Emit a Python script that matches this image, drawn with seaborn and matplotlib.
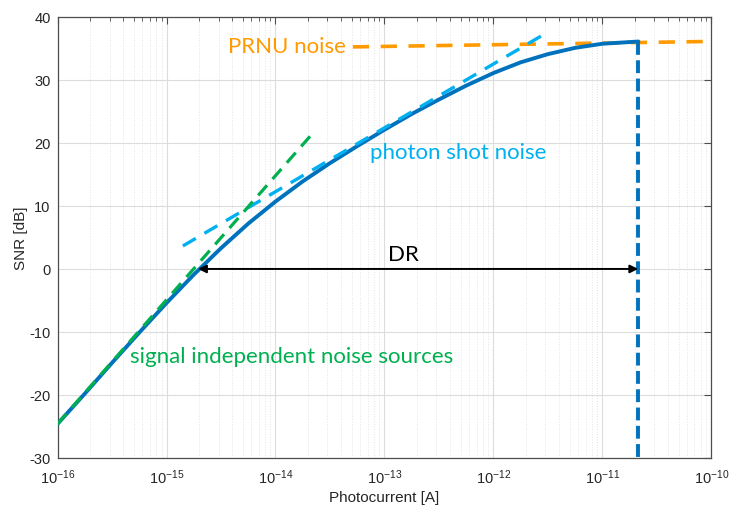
import numpy as np
import pandas as pd
import matplotlib
matplotlib.use("Agg")
import matplotlib.pyplot as plt
import seaborn as sns
from matplotlib.ticker import LogLocator, NullFormatter

# ---- data (log10 of photocurrent in A, SNR in dB) ----
total_log_current = [-16.0, -15.75, -15.5, -15.25, -15.0, -14.75, -14.5, -14.25,
                     -14.0, -13.75, -13.5, -13.25, -13.0, -12.75, -12.5, -12.25,
                     -12.0, -11.75, -11.5, -11.25, -11.0, -10.67]
total_snr = [-24.6, -19.8, -14.9, -10.1, -5.4, -0.9, 3.3, 7.2,
             10.7, 13.9, 16.8, 19.5, 22.1, 24.6, 26.9, 29.1,
             31.1, 32.8, 34.1, 35.1, 35.75, 36.1]

signal_indep_log_current = [-16.0, -13.64]
signal_indep_snr = [-24.6, 21.9]

shot_log_current = [-14.85, -11.53]
shot_snr = [3.65, 37.3]

prnu_log_current = [-13.29, -10.07]
prnu_snr = [35.25, 36.1]

dr_log_current = [-14.71, -10.672]
dr_snr = 0.0
max_log_current = -10.672
max_snr = 36.1
min_snr = -30.0

x_ticks_exp = [-16, -15, -14, -13, -12, -11, -10]
y_ticks = [-30, -20, -10, 0, 10, 20, 30, 40]

# ---- colours ----
c_total = "#0072BD"
c_green = "#00B050"
c_cyan = "#00B0F0"
c_orange = "#FF9A00"

sns.set_style("white")
plt.rcParams["font.family"] = ["Liberation Sans", "DejaVu Sans"]
plt.rcParams["axes.unicode_minus"] = False

fig = plt.figure(figsize=(7.33, 5.06), dpi=100)
ax = fig.add_axes([0.0785, 0.093, 0.892, 0.8715])

def frame(logs, ys):
    return pd.DataFrame({"I": np.power(10.0, logs), "snr": ys})

# helper lines
sns.lineplot(data=frame(prnu_log_current, prnu_snr), x="I", y="snr", ax=ax,
             color=c_orange, lw=2.6, zorder=3)
ax.lines[-1].set_dashes((4.5, 3.2))
sns.lineplot(data=frame(shot_log_current, shot_snr), x="I", y="snr", ax=ax,
             color=c_cyan, lw=2.4, zorder=4)
ax.lines[-1].set_dashes((4.5, 3.0))

# total SNR curve
sns.lineplot(data=frame(total_log_current, total_snr), x="I", y="snr", ax=ax,
             color=c_total, lw=2.8, zorder=3, sort=False)

sns.lineplot(data=frame(signal_indep_log_current, signal_indep_snr), x="I", y="snr",
             ax=ax, color=c_green, lw=2.3, zorder=5)
ax.lines[-1].set_dashes((4.2, 2.6))

# vertical max line
sns.lineplot(data=frame([max_log_current, max_log_current], [max_snr, min_snr]),
             x="I", y="snr", ax=ax, color=c_total, lw=2.8, zorder=3, sort=False,
             estimator=None)
ax.lines[-1].set_dashes((3.3, 1.4))

# DR arrow
ax.annotate("", xy=(10 ** dr_log_current[0], dr_snr), xytext=(10 ** dr_log_current[1], dr_snr),
            arrowprops=dict(arrowstyle="<|-|>", color="black", lw=1.4,
                            mutation_scale=12, shrinkA=0, shrinkB=0), zorder=6)

tfont = ["Lato", "DejaVu Sans"]
ax.text(10 ** -12.97, 2.4, "DR", fontsize=16, family=tfont, color="black",
        ha="left", va="center")
ax.text(10 ** -14.436, 35.4, "PRNU noise", fontsize=16, family=tfont, color=c_orange,
        ha="left", va="center")
ax.text(10 ** -13.133, 18.6, "photon shot noise", fontsize=16, family=tfont, color=c_cyan,
        ha="left", va="center")
ax.text(10 ** -15.335, -13.8, "signal independent noise sources", fontsize=16, family=tfont,
        color=c_green, ha="left", va="center")

ax.set_xscale("log")
ax.set_xlim(1e-16, 1e-10)
ax.set_ylim(-30, 40)
ax.set_xticks([10.0 ** e for e in x_ticks_exp])
ax.xaxis.set_minor_locator(LogLocator(base=10, subs=np.arange(2, 10), numticks=20))
ax.xaxis.set_minor_formatter(NullFormatter())
ax.set_yticks(y_ticks)

ax.grid(True, which="major", color="#dcdcdc", lw=0.8, ls="-")
ax.grid(True, which="minor", axis="x", color="#e4e4e4", lw=0.7, ls=":")
ax.set_axisbelow(True)

ax.tick_params(which="both", direction="in", top=True, right=True,
               colors="#4d4d4d", labelcolor="#262626", labelsize=10.5)
ax.tick_params(which="major", length=5, width=0.8)
ax.tick_params(which="minor", length=3, width=0.6)
ax.tick_params(axis="x", which="major", pad=7)
ax.tick_params(axis="y", which="major", pad=5)
for s in ax.spines.values():
    s.set_color("#4d4d4d")
    s.set_linewidth(0.9)

ax.set_xlabel("Photocurrent [A]", fontsize=11, color="#262626", labelpad=3)
ax.set_ylabel("SNR [dB]", fontsize=11, color="#262626", labelpad=1)

fig.savefig("out.png", dpi=100)
